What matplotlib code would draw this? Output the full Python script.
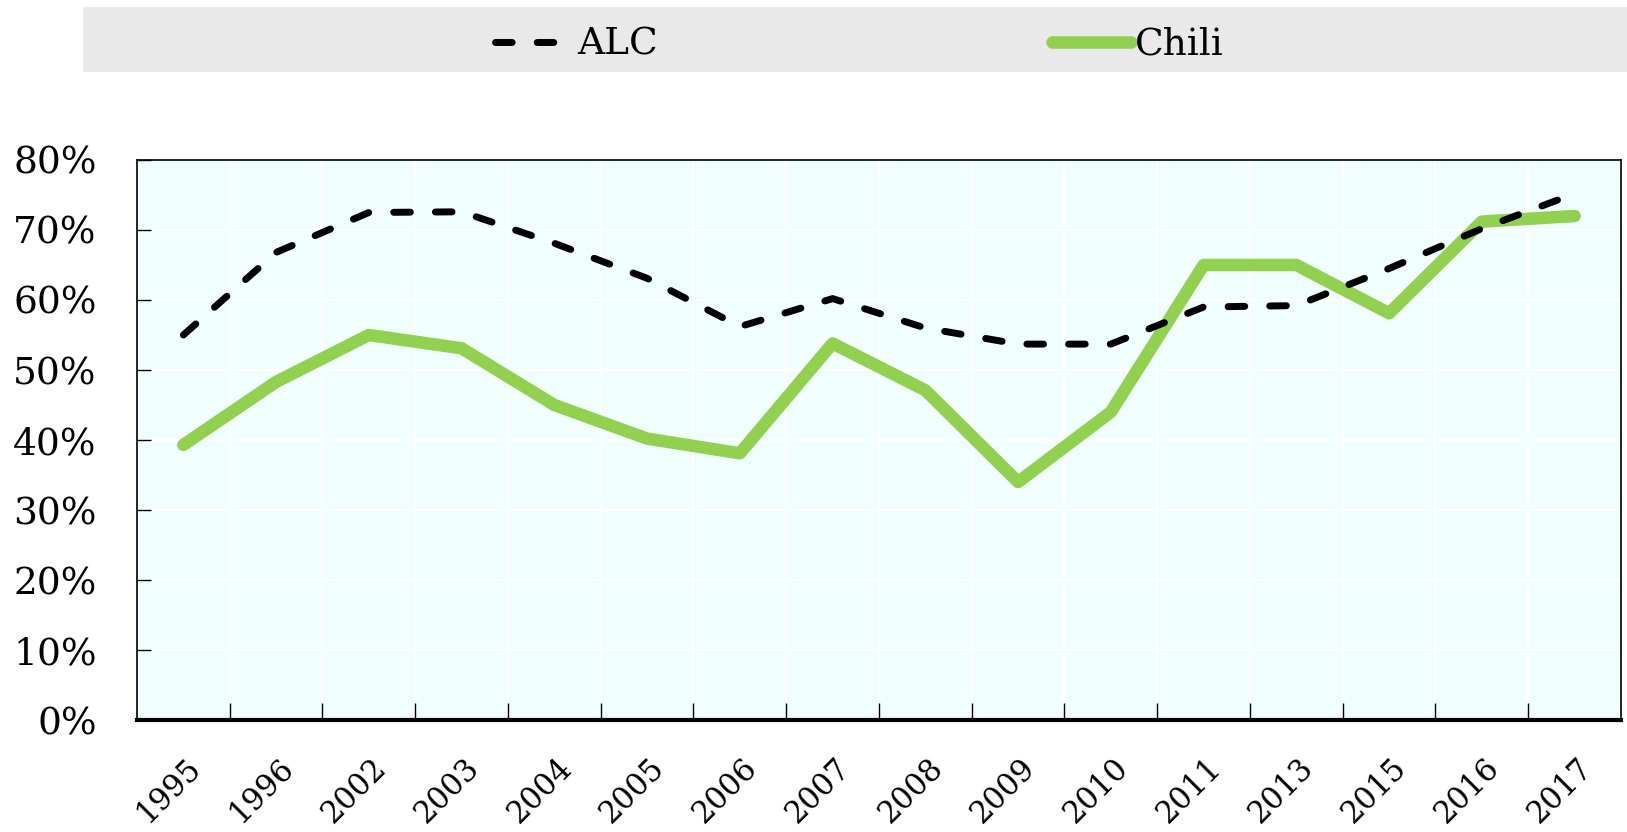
import matplotlib
matplotlib.use("Agg")
import matplotlib.pyplot as plt
from matplotlib.patches import Rectangle
from matplotlib.ticker import FixedLocator, NullFormatter, FuncFormatter
from matplotlib.transforms import ScaledTranslation
import numpy as np

years = ["1995", "1996", "2002", "2003", "2004", "2005", "2006", "2007",
         "2008", "2009", "2010", "2011", "2013", "2015", "2016", "2017"]
alc = [55.0, 66.8, 72.5, 72.6, 68.1, 63.1, 56.2, 60.2,
       56.0, 53.7, 53.7, 59.0, 59.2, 64.5, 70.2, 75.2]
chili = [39.3, 48.3, 55.0, 53.1, 45.0, 40.2, 38.1, 53.8,
         47.1, 34.0, 44.0, 65.0, 65.0, 58.1, 71.2, 72.0]

plt.rcParams["font.family"] = ["DejaVu Serif"]

fig = plt.figure(figsize=(16.27, 8.32), dpi=100)
ax = fig.add_axes([0.0842, 0.1346, 0.9121, 0.6731])
ax.set_facecolor("#F0FEFE")

x = np.arange(len(years))
ax.plot(x, alc, color="black", lw=5, linestyle=(0, (2.4, 3.6)),
        dash_capstyle="round", solid_capstyle="round", label="ALC", zorder=3)
ax.plot(x, chili, color="#92D050", lw=9, solid_capstyle="round",
        solid_joinstyle="round", label="Chili", zorder=2)

ax.set_xlim(-0.5, len(years) - 0.5)
ax.set_ylim(0, 80)
ax.set_yticks(range(0, 81, 10))
ax.yaxis.set_major_formatter(FuncFormatter(lambda v, p: f"{int(v)}%"))

# category labels at centres, tick marks at boundaries
ax.set_xticks(x)
ax.set_xticklabels(years, rotation=45, ha="right", va="top", rotation_mode="anchor")
ax.tick_params(axis="x", which="major", length=0, labelsize=22, pad=23)
shift = ScaledTranslation(0.02, 0, fig.dpi_scale_trans)
for lbl in ax.get_xticklabels():
    lbl.set_transform(lbl.get_transform() + shift)
ax.xaxis.set_minor_locator(FixedLocator(np.arange(0.5, len(years) - 1, 1)))
ax.xaxis.set_minor_formatter(NullFormatter())
ax.tick_params(axis="x", which="minor", direction="in", length=12, width=1)
ax.tick_params(axis="y", direction="in", length=10, width=1, labelsize=27, pad=29)

ax.grid(True, which="major", axis="y", color="white", lw=1.5)
ax.grid(True, which="minor", axis="x", color="white", lw=1.5)
ax.set_axisbelow(True)
for s in ax.spines.values():
    s.set_linewidth(1.2)
ax.spines["bottom"].set_linewidth(3)

# legend band
fig.patches.append(Rectangle((0.051, 0.913), 0.949, 0.078, transform=fig.transFigure,
                             facecolor="#E9E9E9", edgecolor="none", zorder=0))
fig.legend(loc="center", bbox_to_anchor=(0.528, 0.946), ncol=2, frameon=False,
           fontsize=27, handlelength=2.1, handletextpad=0.1, columnspacing=10.5)

fig.savefig("out.png", dpi=100)
